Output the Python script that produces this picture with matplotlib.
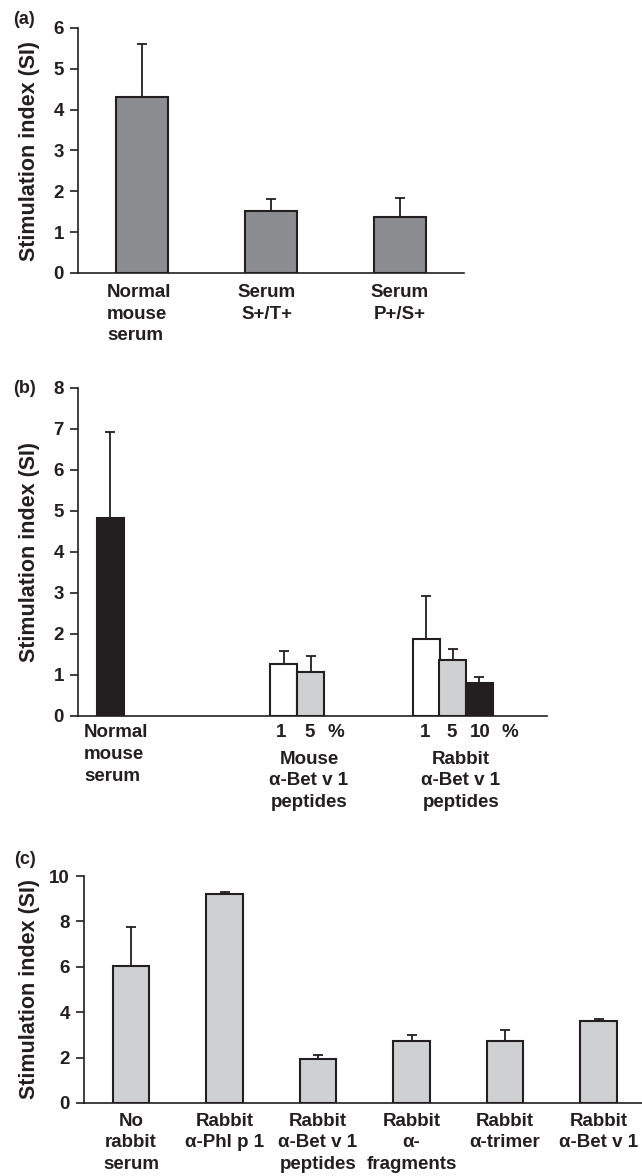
import matplotlib
matplotlib.use('Agg')
import matplotlib.pyplot as plt

# panel (a)
a_labels = ['Normal\nmouse\nserum', 'Serum\nS+/T+', 'Serum\nP+/S+']
a_means = [4.3, 1.52, 1.37]
a_upper = [5.6, 1.81, 1.83]

# panel (b)
b_normal = 4.83
b_normal_up = 6.92
b_mouse = [1.27, 1.08]
b_mouse_up = [1.58, 1.47]
b_rabbit = [1.87, 1.37, 0.8]
b_rabbit_up = [2.92, 1.63, 0.95]
b_pct_mouse = ['1', '5', '%']
b_pct_rabbit = ['1', '5', '10', '%']
b_groups = ['Normal\nmouse\nserum', 'Mouse\nα-Bet v 1\npeptides', 'Rabbit\nα-Bet v 1\npeptides']

# panel (c)
c_labels = ['No\nrabbit\nserum', 'Rabbit\nα-Phl p 1', 'Rabbit\nα-Bet v 1\npeptides',
            'Rabbit\nα-\nfragments', 'Rabbit\nα-trimer', 'Rabbit\nα-Bet v 1']
c_means = [6.05, 9.22, 1.92, 2.72, 2.72, 3.6]
c_upper = [7.75, 9.28, 2.12, 3.0, 3.22, 3.7]

ink = '#231f20'
fam = ['Liberation Sans', 'DejaVu Sans']
FS = 13.5
LS = 1.36

fig = plt.figure(figsize=(6.42, 11.76), dpi=100)


def style(ax, ymax, step):
    ax.patch.set_alpha(0)
    for s in ['top', 'right']:
        ax.spines[s].set_visible(False)
    for s in ['left', 'bottom']:
        ax.spines[s].set_color(ink)
        ax.spines[s].set_linewidth(1.2)
    ax.set_ylim(0, ymax)
    ax.set_yticks(range(0, ymax + 1, step))
    ax.tick_params(axis='y', direction='out', length=6, width=1.2, color=ink, pad=4)
    ax.set_xticks([])
    for t in ax.get_yticklabels():
        t.set_family(fam)
        t.set_fontweight('bold')
        t.set_fontsize(FS)
        t.set_color(ink)


def ylab(y):
    fig.text(0.0467, y, 'Stimulation index (SI)', rotation=90, ha='center', va='center',
             family=fam, fontweight='bold', fontsize=15.5, color=ink)


def xlab(ax, x, s, ha='center', dy=-8):
    ax.annotate(s, xy=(x, 0), xycoords=('data', 'axes fraction'), xytext=(0, dy),
                textcoords='offset points', ha=ha, va='top', family=fam,
                fontweight='bold', fontsize=FS, color=ink, linespacing=LS,
                annotation_clip=False)


def errs(ax, x, means, upper):
    for xi, m, u in zip(x, means, upper):
        ax.errorbar(xi, m, yerr=[[0], [u - m]], fmt='none', ecolor=ink,
                    elinewidth=1.3, capsize=3.5, capthick=1.3, zorder=1)


# ---- (a)
ax = fig.add_axes([0.1215, 0.7679, 0.6012, 0.2083])
xa = range(len(a_means))
errs(ax, xa, a_means, a_upper)
ax.bar(xa, a_means, width=0.404, color='#8c8d90', edgecolor=ink, linewidth=1.5, zorder=2)
ax.set_xlim(-0.497, 2.50)
style(ax, 6, 1)
xlab(ax, -0.27, a_labels[0], ha='left')
xlab(ax, 0.97, a_labels[1])
xlab(ax, 2.0, a_labels[2])
ylab(0.872)
fig.text(0.02, 0.983, '(a)', family=fam, fontweight='bold', fontsize=13, va='center', color=ink)

# ---- (b)
ax = fig.add_axes([0.1215, 0.3912, 0.7305, 0.2789])
mx = [6.43, 7.43]
rx = [11.72, 12.7, 13.68]
errs(ax, [0], [b_normal], [b_normal_up])
errs(ax, mx, b_mouse, b_mouse_up)
errs(ax, rx, b_rabbit, b_rabbit_up)
ax.bar([0], [b_normal], width=1.0, color=ink, edgecolor=ink, linewidth=1.5, zorder=2)
ax.bar(mx, b_mouse, width=1.0, color=['white', '#cfd0d2'], edgecolor=ink, linewidth=1.5, zorder=2)
ax.bar(rx, b_rabbit, width=1.0, color=['white', '#cfd0d2', ink], edgecolor=ink, linewidth=1.5, zorder=2)
ax.set_xlim(-1.19, 16.19)
style(ax, 8, 1)
for xi, t in zip([6.33, 7.4, 8.37], b_pct_mouse):
    xlab(ax, xi, t, dy=-6)
for xi, t in zip([11.67, 12.67, 13.7, 14.8], b_pct_rabbit):
    xlab(ax, xi, t, dy=-6)
xlab(ax, -0.96, b_groups[0], ha='left', dy=-6)
xlab(ax, 7.37, b_groups[1], dy=-25)
xlab(ax, 13.0, b_groups[2], dy=-25)
ylab(0.5302)
fig.text(0.02, 0.67, '(b)', family=fam, fontweight='bold', fontsize=13, va='center', color=ink)

# ---- (c)
ax = fig.add_axes([0.1308, 0.0621, 0.8692, 0.1930])
xc = range(len(c_means))
errs(ax, xc, c_means, c_upper)
ax.bar(xc, c_means, width=0.395, color='#cfd0d2', edgecolor=ink, linewidth=1.5, zorder=2)
ax.set_xlim(-0.503, 5.465)
style(ax, 10, 2)
for xi, lab in zip(xc, c_labels):
    xlab(ax, xi, lab, dy=-7)
ylab(0.159)
fig.text(0.022, 0.269, '(c)', family=fam, fontweight='bold', fontsize=13, va='center', color=ink)

fig.savefig('out.png', dpi=100)
